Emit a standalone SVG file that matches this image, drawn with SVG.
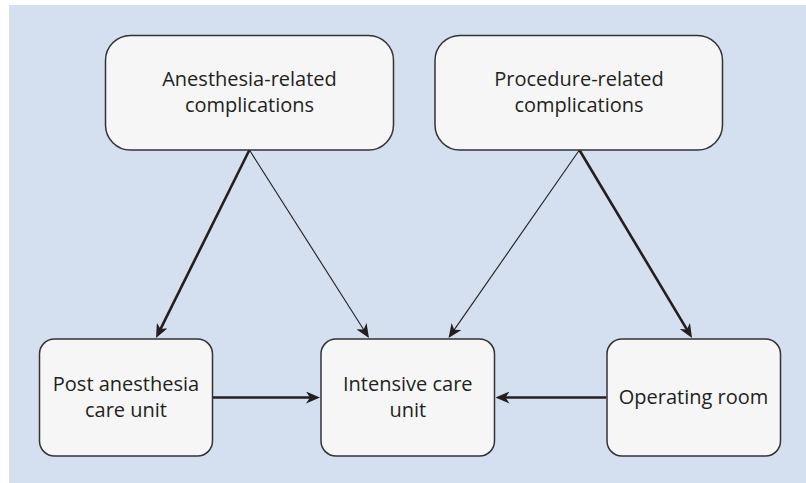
<svg xmlns="http://www.w3.org/2000/svg" width="806" height="483" viewBox="0 0 806 483">
<style>
.box{fill:#f6f6f6;stroke:#333333;stroke-width:1.5}
.lbl{font-family:"Open Sans","Noto Sans",sans-serif;font-size:20px;fill:#231f20;text-anchor:middle}
.thick{stroke:#231f20;stroke-width:2.6;fill:none}
.thin{stroke:#231f20;stroke-width:1.1;fill:none}
</style>
<defs>
<marker id="ah" markerUnits="userSpaceOnUse" markerWidth="14" markerHeight="12" viewBox="0 0 14 12" refX="6" refY="6" orient="auto">
<path d="M0,0 L14,6 L0,12 L4,6 Z" fill="#231f20"/>
</marker>
</defs>
<rect x="9" y="5" width="797" height="478" fill="#d4dff0"/>
<g id="connectors">
<line class="thick" x1="249.4" y1="150" x2="159.6" y2="330.8" marker-end="url(#ah)"/>
<line class="thin" x1="249.4" y1="150" x2="364.7" y2="331.2" marker-end="url(#ah)"/>
<line class="thin" x1="579.4" y1="150" x2="453.1" y2="331.4" marker-end="url(#ah)"/>
<line class="thick" x1="579.4" y1="150" x2="687.9" y2="331.1" marker-end="url(#ah)"/>
<line class="thick" x1="213" y1="397.5" x2="312" y2="397.5" marker-end="url(#ah)"/>
<line class="thick" x1="606.5" y1="397.5" x2="503.5" y2="397.5" marker-end="url(#ah)"/>
</g>
<g id="anesthesia">
<rect class="box" x="105.5" y="35.5" width="288" height="114.5" rx="25" ry="25"/>
<text class="lbl" x="249.5" y="86">Anesthesia-related</text>
<text class="lbl" x="249.5" y="112">complications</text>
</g>
<g id="procedure">
<rect class="box" x="435" y="35.5" width="287.5" height="114.5" rx="25" ry="25"/>
<text class="lbl" x="579" y="86">Procedure-related</text>
<text class="lbl" x="579" y="112">complications</text>
</g>
<g id="pacu">
<rect class="box" x="39.5" y="339" width="173" height="117" rx="15" ry="15"/>
<text class="lbl" x="126" y="391">Post anesthesia</text>
<text class="lbl" x="126" y="417">care unit</text>
</g>
<g id="icu">
<rect class="box" x="321" y="339" width="173.5" height="117" rx="15" ry="15"/>
<text class="lbl" x="407.8" y="391">Intensive care</text>
<text class="lbl" x="407.8" y="417">unit</text>
</g>
<g id="or">
<rect class="box" x="607" y="339" width="173.5" height="117" rx="15" ry="15"/>
<text class="lbl" x="693.5" y="404">Operating room</text>
</g>
</svg>
